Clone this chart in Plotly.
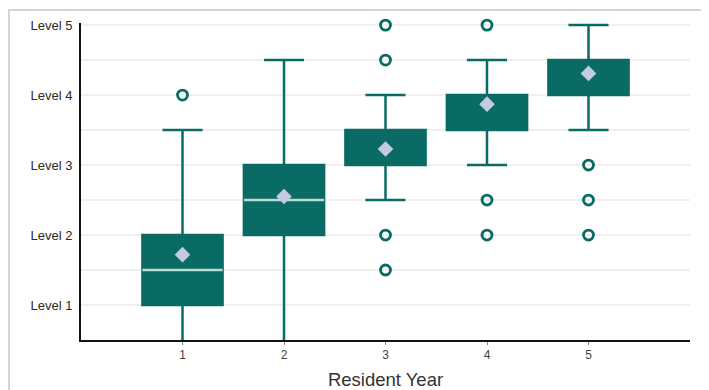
import plotly.graph_objects as go

years = [1, 2, 3, 4, 5]
q1 = [1.0, 2.0, 3.0, 3.5, 4.0]
median = [1.5, 2.5, 3.0, 4.0, 4.5]
q3 = [2.0, 3.0, 3.5, 4.0, 4.5]
lower_whisker = [0.0, 0.0, 2.5, 3.0, 3.5]
upper_whisker = [3.5, 4.5, 4.0, 4.5, 5.0]
means = [1.72, 2.55, 3.23, 3.87, 4.31]
outlier_year = [1, 3, 3, 3, 3, 4, 4, 4, 5, 5, 5]
outlier_val = [4.0, 5.0, 4.5, 2.0, 1.5, 5.0, 2.5, 2.0, 3.0, 2.5, 2.0]
level_vals = [1, 2, 3, 4, 5]
level_text = ["Level 1", "Level 2", "Level 3", "Level 4", "Level 5"]

TEAL = "#0a6b65"
BOX_W = 0.79

fig = go.Figure()
fig.add_trace(go.Box(
    x=years, q1=q1, median=median, q3=q3,
    lowerfence=lower_whisker, upperfence=upper_whisker,
    orientation="v", width=BOX_W, whiskerwidth=0.5,
    fillcolor=TEAL, line=dict(color=TEAL, width=2.5),
    boxpoints=False, hoverinfo="skip", showlegend=False,
))

# median lines (only visible when strictly inside the box)
mx, my = [], []
for x, a, m, b in zip(years, q1, median, q3):
    if a < m < b:
        mx += [x - BOX_W / 2, x + BOX_W / 2, None]
        my += [m, m, None]
fig.add_trace(go.Scatter(x=mx, y=my, mode="lines",
                         line=dict(color="#b8dcd8", width=2.5),
                         hoverinfo="skip", showlegend=False))

fig.add_trace(go.Scatter(x=years, y=means, mode="markers",
                         marker=dict(symbol="diamond", size=12, color="#c3cbe0"),
                         hoverinfo="skip", showlegend=False))

fig.add_trace(go.Scatter(x=outlier_year, y=outlier_val, mode="markers",
                         marker=dict(symbol="circle-open", size=10, color=TEAL,
                                     line=dict(width=2.8, color=TEAL)),
                         hoverinfo="skip", showlegend=False, cliponaxis=False))

grid_vals = [1, 1.5, 2, 2.5, 3, 3.5, 4, 4.5, 5]
grid_text = [level_text[level_vals.index(v)] if v in level_vals else "" for v in grid_vals]

fig.update_layout(
    width=701, height=382,
    margin=dict(l=73, r=19, t=15, b=50, autoexpand=False),
    paper_bgcolor="white", plot_bgcolor="white",
    font=dict(family="Liberation Sans, Arial, sans-serif", color="#333333"),
    xaxis=dict(range=[0, 6], tickvals=years, ticktext=[str(y) for y in years],
               showgrid=False, zeroline=False, showline=True, linecolor="#111111",
               linewidth=2, ticks="outside", ticklen=3, tickcolor="#888888",
               tickfont=dict(size=12, color="#444444"), automargin=False,
               title=dict(text="Resident Year", font=dict(size=18.5, color="#333333"),
                          standoff=12)),
    yaxis=dict(range=[0.5, 5.03], tickvals=grid_vals, ticktext=grid_text,
               showgrid=True, gridcolor="#efefef", gridwidth=1.5, zeroline=False,
               showline=True, linecolor="#111111", linewidth=2, ticks="",
               ticklabelstandoff=4,
               automargin=False, tickfont=dict(size=13, color="#2a2a2a")),
    shapes=[dict(type="rect", xref="paper", yref="paper",
                 x0=-0.1182, x1=1.2, y0=-0.3, y1=1.041,
                 line=dict(color="#d4d4d4", width=2), layer="below")],
)

fig.write_html("out.html")
